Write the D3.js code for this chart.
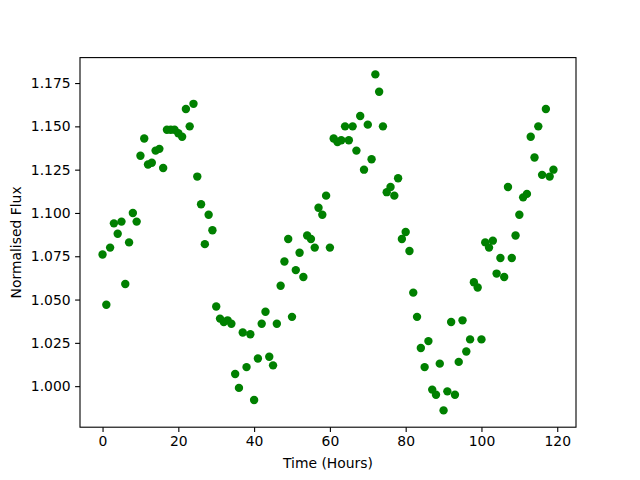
<!DOCTYPE html>
<html>
<head>
<meta charset="utf-8">
<script src="https://cdn.jsdelivr.net/npm/d3@7"></script>
<style>
  body { margin: 0; background: #fff; }
  text { font-family: "DejaVu Sans", sans-serif; }
</style>
</head>
<body>
<svg id="chart" width="640" height="480"></svg>
<script>
const times = [
  0, 1, 2, 3, 4, 5, 6, 7, 8, 9,
  10, 11, 12, 13, 14, 15, 16, 17, 18, 19,
  20, 21, 22, 23, 24, 25, 26, 27, 28, 29,
  30, 31, 32, 33, 34, 35, 36, 37, 38, 39,
  40, 41, 42, 43, 44, 45, 46, 47, 48, 49,
  50, 51, 52, 53, 54, 55, 56, 57, 58, 59,
  60, 61, 62, 63, 64, 65, 66, 67, 68, 69,
  70, 71, 72, 73, 74, 75, 76, 77, 78, 79,
  80, 81, 82, 83, 84, 85, 86, 87, 88, 89,
  90, 91, 92, 93, 94, 95, 96, 97, 98, 99,
  100, 101, 102, 103, 104, 105, 106, 107, 108, 109,
  110, 111, 112, 113, 114, 115, 116, 117, 118, 119
];
const flux = [
  1.076, 1.047, 1.080, 1.094, 1.088, 1.095, 1.059, 1.083, 1.100, 1.095,
  1.133, 1.143, 1.128, 1.129, 1.136, 1.137, 1.126, 1.148, 1.148, 1.148,
  1.146, 1.144, 1.160, 1.150, 1.163, 1.121, 1.105, 1.082, 1.099, 1.090,
  1.046, 1.039, 1.037, 1.038, 1.036, 1.007, 0.999, 1.031, 1.011, 1.030,
  0.992, 1.016, 1.036, 1.043, 1.017, 1.012, 1.036, 1.058, 1.072, 1.085,
  1.040, 1.067, 1.077, 1.063, 1.087, 1.085, 1.080, 1.103, 1.099, 1.110,
  1.080, 1.143, 1.141, 1.142, 1.150, 1.142, 1.150, 1.136, 1.156, 1.125,
  1.151, 1.131, 1.180, 1.170, 1.150, 1.112, 1.115, 1.110, 1.120, 1.085,
  1.089, 1.078, 1.054, 1.040, 1.022, 1.011, 1.026, 0.998, 0.995, 1.013,
  0.986, 0.997, 1.037, 0.995, 1.014, 1.038, 1.020, 1.027, 1.060, 1.057,
  1.027, 1.083, 1.080, 1.084, 1.065, 1.074, 1.063, 1.115, 1.074, 1.087,
  1.099, 1.109, 1.111, 1.144, 1.132, 1.150, 1.122, 1.160, 1.121, 1.125
];
const xTicks = [0, 20, 40, 60, 80, 100, 120];
const yTicks = [1.000, 1.025, 1.050, 1.075, 1.100, 1.125, 1.150, 1.175];

const plotLeft = 80, plotRight = 576, plotTop = 57.6, plotBottom = 427.2;
const svg = d3.select("#chart");

// matplotlib style 5% padding around the data
const xMin = d3.min(times), xMax = d3.max(times);
const yMin = d3.min(flux), yMax = d3.max(flux);
const xPad = (xMax - xMin) * 0.05, yPad = (yMax - yMin) * 0.05;

const x = d3.scaleLinear().domain([xMin - xPad, xMax + xPad]).range([plotLeft, plotRight]);
const y = d3.scaleLinear().domain([yMin - yPad, yMax + yPad]).range([plotBottom, plotTop]);

svg.append("g")
  .selectAll("circle")
  .data(times)
  .enter()
  .append("circle")
  .attr("cx", (d, i) => x(d))
  .attr("cy", (d, i) => y(flux[i]))
  .attr("r", 4.2)
  .attr("fill", "#008000");

const xAxis = svg.append("g")
  .attr("transform", "translate(0," + plotBottom + ")")
  .call(d3.axisBottom(x).tickValues(xTicks).tickSize(4.9).tickPadding(4.5).tickFormat(d3.format("d")));

const yAxis = svg.append("g")
  .attr("transform", "translate(" + plotLeft + ",0)")
  .call(d3.axisLeft(y).tickValues(yTicks).tickSize(4.9).tickPadding(4.5).tickFormat(d3.format(".3f")));

[xAxis, yAxis].forEach(ax => {
  ax.select(".domain").remove();
  ax.selectAll(".tick line").attr("stroke", "#000").attr("stroke-width", 1.1);
  ax.selectAll(".tick text")
    .attr("font-family", "DejaVu Sans")
    .attr("font-size", "13.9px")
    .attr("fill", "#000");
});

svg.append("rect")
  .attr("x", plotLeft)
  .attr("y", plotTop)
  .attr("width", plotRight - plotLeft)
  .attr("height", plotBottom - plotTop)
  .attr("fill", "none")
  .attr("stroke", "#000")
  .attr("stroke-width", 1.1);

svg.append("text")
  .attr("x", (plotLeft + plotRight) / 2)
  .attr("y", 468)
  .attr("text-anchor", "middle")
  .attr("font-size", "13.9px")
  .text("Time (Hours)");

svg.append("text")
  .attr("transform", "translate(21," + (plotTop + plotBottom) / 2 + ") rotate(-90)")
  .attr("text-anchor", "middle")
  .attr("font-size", "13.9px")
  .text("Normalised Flux");
</script>
</body>
</html>
